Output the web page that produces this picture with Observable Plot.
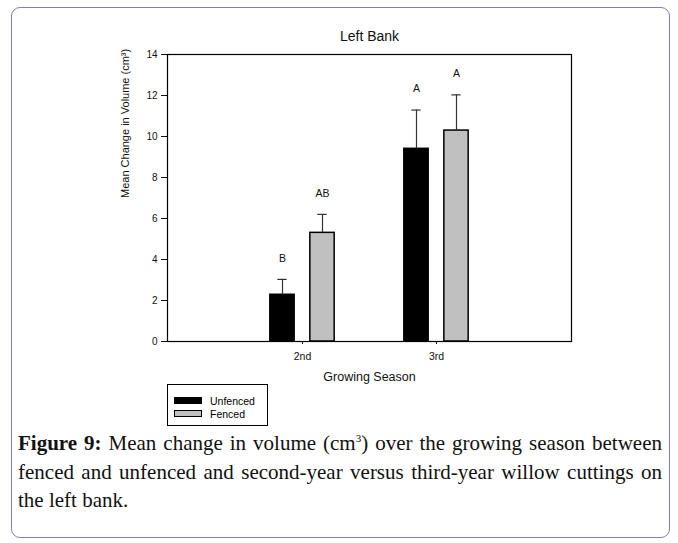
<!DOCTYPE html>
<html>
<head>
<meta charset="utf-8">
<script src="https://cdn.jsdelivr.net/npm/d3@7"></script>
<script src="https://cdn.jsdelivr.net/npm/@observablehq/plot@0.6"></script>
<style>
  html, body { margin: 0; padding: 0; background: #fff; width: 678px; height: 543px; overflow: hidden; }
  #card { position: absolute; left: 11px; top: 7px; width: 659px; height: 531px; border: 1.5px solid #7f7fb8; border-radius: 9px; box-sizing: border-box; }
  #chart { position: absolute; left: 0; top: 0; }
  #legend { position: absolute; left: 167px; top: 384px; width: 101px; height: 42px; border: 1px solid #000; box-sizing: border-box; font-family: "Liberation Sans", Arial, sans-serif; font-size: 10.5px; }
  .item { position: absolute; left: 6px; height: 13px; display: flex; align-items: center; }
  .sw { width: 26px; height: 5px; border: 1px solid #000; margin-right: 8px; }
  #caption { position: absolute; left: 18px; top: 424px; width: 644px; font-family: "Liberation Serif", "Times New Roman", serif; font-size: 21px; line-height: 28.5px; color: #111; }
  #caption .j { text-align: justify; text-align-last: justify; white-space: nowrap; }
</style>
</head>
<body>
<div id="card"></div>
<div id="chart"></div>
<div id="legend"></div>
<div id="caption">
  <div class="j"><b>Figure 9:</b> Mean change in volume (cm<sup style="font-size:11px">3</sup>) over the growing season between</div>
  <div class="j">fenced and unfenced and second-year versus third-year willow cuttings on</div>
  <div>the left bank.</div>
</div>
<script>
const title = "Left Bank";
const seasons = ["2nd", "3rd"];
const groups = ["Unfenced", "Fenced"];
const groupColors = ["#000000", "#c0c0c0"];
const unfencedMean = [2.28, 9.40];
const unfencedSE = [0.75, 1.89];
const unfencedLetters = ["B", "A"];
const fencedMean = [5.30, 10.29];
const fencedSE = [0.90, 1.74];
const fencedLetters = ["AB", "A"];
const yTicks = [0, 2, 4, 6, 8, 10, 12, 14];
const xLabel = "Growing Season";
const yLabel = "Mean Change in Volume (cm³)";

const unfenced = seasons.map((s, i) => ({season: s, mean: unfencedMean[i], top: unfencedMean[i] + unfencedSE[i], letter: unfencedLetters[i]}));
const fenced = seasons.map((s, i) => ({season: s, mean: fencedMean[i], top: fencedMean[i] + fencedSE[i], letter: fencedLetters[i]}));

const W = 678, ML = 167, MR = 107;
const bandW = (W - ML - MR) / 3;
const barW = 25, capW = 10, off = 20;
const barInset = (bandW - barW) / 2;
const capInset = (bandW - capW) / 2;

function series(data, fill, dx) {
  return [
    Plot.barY(data, {x: "season", y: "mean", fill, stroke: "#000", strokeWidth: 1.5, insetLeft: barInset, insetRight: barInset, dx}),
    Plot.ruleX(data, {x: "season", y1: "mean", y2: "top", stroke: "#333", strokeWidth: 1.2, dx}),
    Plot.tickY(data, {x: "season", y: "top", stroke: "#333", strokeWidth: 1.2, insetLeft: capInset, insetRight: capInset, dx}),
    Plot.text(data, {x: "season", y: "top", text: "letter", dx, dy: -21, fontSize: 10.5, fill: "#111"})
  ];
}

const plot = Plot.plot({
  width: W,
  height: 380,
  marginLeft: ML,
  marginRight: MR,
  marginTop: 54,
  marginBottom: 39,
  style: {fontFamily: "'Liberation Sans', Arial, sans-serif", fontSize: "10px", background: "transparent", color: "#111", overflow: "visible"},
  x: {type: "band", domain: seasons, paddingInner: 0, paddingOuter: 0.5, align: 0.5, axis: null},
  y: {domain: [0, 14], axis: null},
  marks: [
    Plot.axisY({ticks: yTicks, tickSize: 6, tickPadding: 4, label: null, fontSize: 10}),
    Plot.axisX({tickSize: 3, tickPadding: 8, label: null, fontSize: 10.5}),
    ...series(unfenced, groupColors[0], -off),
    ...series(fenced, groupColors[1], off),
    Plot.frame({stroke: "#000", strokeWidth: 1.2}),
    Plot.text([title], {frameAnchor: "top", dy: -23, fontSize: 14, fill: "#111"}),
    Plot.text([xLabel], {frameAnchor: "bottom", dy: 39, fontSize: 12.5, fill: "#111"}),
    Plot.text([yLabel], {frameAnchor: "left", rotate: -90, dx: -42, fontSize: 11, fill: "#111"})
  ]
});
document.getElementById("chart").appendChild(plot);

const legend = document.getElementById("legend");
groups.forEach((g, i) => {
  const it = document.createElement("div");
  it.className = "item";
  it.style.top = (9 + i * 13) + "px";
  const sw = document.createElement("div");
  sw.className = "sw";
  sw.style.background = groupColors[i];
  const tx = document.createElement("span");
  tx.textContent = g;
  it.appendChild(sw);
  it.appendChild(tx);
  legend.appendChild(it);
});
</script>
</body>
</html>
